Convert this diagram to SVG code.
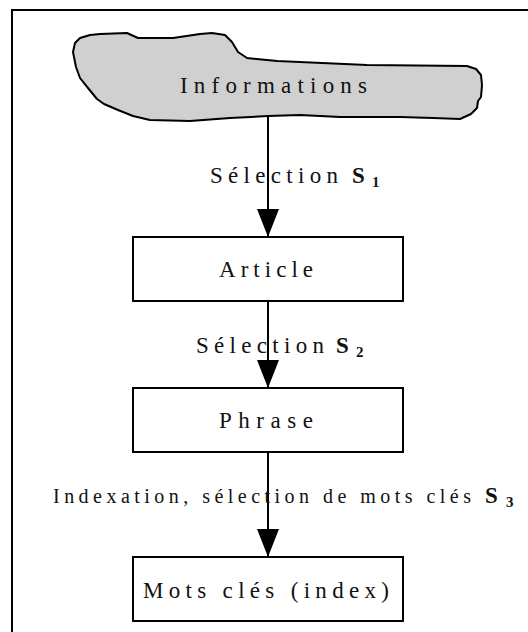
<svg xmlns="http://www.w3.org/2000/svg" width="528" height="632" viewBox="0 0 528 632">
  <style>
    .frame { fill: none; stroke: #000; stroke-width: 2; }
    .box { fill: #fff; stroke: #000; stroke-width: 2; }
    .cloud { fill: #d0d0d0; stroke: #000; stroke-width: 2; stroke-linejoin: round; }
    .edge { fill: none; stroke: #000; stroke-width: 2; }
    .label { font-family: "Liberation Serif", "DejaVu Serif", serif; font-size: 23px; fill: #111; }
    .small { font-size: 20px; }
    .sym { font-weight: bold; font-size: 23px; }
    .sub { font-size: 15px; font-weight: bold; }
  </style>
  <defs>
    <marker id="arrow" markerUnits="userSpaceOnUse" viewBox="0 0 28 22" markerWidth="28" markerHeight="22" refX="28" refY="11" orient="auto">
      <path d="M0,0 L28,11 L0,22 Z" fill="#000"/>
    </marker>
  </defs>

  <!-- outer frame -->
  <rect class="frame" x="12" y="10" width="530" height="640"/>

  <!-- connectors -->
  <g id="connectors">
    <line class="edge" x1="268" y1="117" x2="268" y2="237" marker-end="url(#arrow)"/>
    <line class="edge" x1="268" y1="301" x2="268" y2="388" marker-end="url(#arrow)"/>
    <line class="edge" x1="268" y1="452" x2="268" y2="557" marker-end="url(#arrow)"/>
  </g>

  <!-- edge labels -->
  <g id="edge-labels" class="label">
    <text x="210" y="183" textLength="128" lengthAdjust="spacing">Sélection</text>
    <text x="352" y="183" class="sym">S</text>
    <text x="372" y="187" class="sub">1</text>

    <text x="196" y="353" textLength="128" lengthAdjust="spacing">Sélection</text>
    <text x="336" y="353" class="sym">S</text>
    <text x="356" y="357" class="sub">2</text>

    <text x="53" y="503" class="small" textLength="418" lengthAdjust="spacing">Indexation, sélection de mots clés</text>
    <text x="485" y="503" class="sym">S</text>
    <text x="506" y="507" class="sub">3</text>
  </g>

  <g id="informations">
    <path class="cloud" d="M75,43 L80,38 L90,35 L100,34 L127,33 L138,38 L173,38 L200,34 L212,33 L225,35 L232,42 L238,52 L247,58 L277,61 L367,65 L467,66 L476,69 L481,75 L482,85 L481,97 L478,101 L477,108 L471,114 L460,119 L433,118 L400,117 L340,117 L300,115 L268,116 L230,118 L190,121 L150,120 L133,116 L118,110 L104,104 L97,99 L88,88 L80,78 L76,67 L73,52 Z"/>
    <text class="label" x="180" y="93" textLength="187" lengthAdjust="spacing">Informations</text>
  </g>

  <g id="article">
    <rect class="box" x="133" y="237" width="270" height="64"/>
    <text class="label" x="219" y="277" textLength="94" lengthAdjust="spacing">Article</text>
  </g>

  <g id="phrase">
    <rect class="box" x="133" y="388" width="270" height="64"/>
    <text class="label" x="219" y="428" textLength="94" lengthAdjust="spacing">Phrase</text>
  </g>

  <g id="mots-cles">
    <rect class="box" x="133" y="557" width="270" height="64"/>
    <text class="label" x="143" y="598" textLength="246" lengthAdjust="spacing">Mots clés (index)</text>
  </g>
</svg>
